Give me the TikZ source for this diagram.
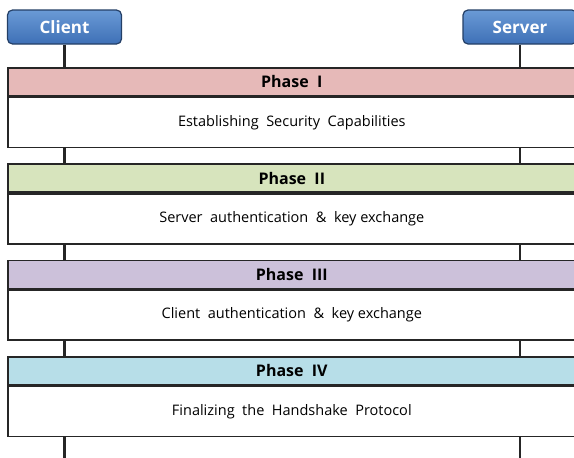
\documentclass[tikz,border=0pt]{standalone}
\usepackage{fontspec}
\setmainfont{Open Sans}
\usetikzlibrary{positioning}

\definecolor{hosttop}{HTML}{6A9AD6}
\definecolor{hostbot}{HTML}{3E70B6}
\definecolor{hostedge}{HTML}{243F66}
\definecolor{phaseI}{HTML}{E6B9B8}
\definecolor{phaseII}{HTML}{D7E4BD}
\definecolor{phaseIII}{HTML}{CCC1DA}
\definecolor{phaseIV}{HTML}{B7DEE8}

\begin{document}
\begin{tikzpicture}[x=1pt,y=-1pt,
	host/.style={draw=hostedge, line width=1.2pt, rounded corners=5pt,
		top color=hosttop, bottom color=hostbot, text=white,
		font=\fontsize{17}{20}\selectfont\bfseries,
		minimum width=114pt, minimum height=34pt, inner sep=0pt},
	phasehead/.style={draw=black!85, line width=1.6pt, anchor=north west,
		minimum width=568pt, minimum height=28pt, inner sep=0pt,
		font=\fontsize{16}{19}\selectfont\bfseries},
	phasebody/.style={draw=black!85, line width=1.6pt, fill=white, anchor=north,
		minimum width=568pt, minimum height=50pt, inner sep=0pt,
		font=\fontsize{14.5}{17}\selectfont},
	lifeline/.style={line width=2.6pt, black!85}]
	\useasboundingbox (0,0) rectangle (574,458);

	% the two end points
	\node[host] (client) at (64.5,27) {Client};
	\node[host] (server) at (520,27) {Server};

	% handshake phases
	\foreach \n/\col/\title/\desc [count=\k from 0] in {
			1/phaseI/{Phase~~I}/{Establishing~~Security~~Capabilities},
			2/phaseII/{Phase~~II}/{Server~~authentication~~\&~~key exchange},
			3/phaseIII/{Phase~~III}/{Client~~authentication~~\&~~key exchange},
			4/phaseIV/{Phase~~IV}/{Finalizing~~the~~Handshake~~Protocol}} {
			\node[phasehead, fill=\col] (head\n) at (7,{67+96.3*\k}) {\title};
			\node[phasebody] (body\n) at (head\n.south) {\desc};
		}

	% lifelines between the boxes
	\coordinate (bottom) at (0,458);
	\draw[lifeline] (client.south) -- (client.south |- head1.north);
	\draw[lifeline] (server.south) -- (server.south |- head1.north);
	\foreach \a/\b in {1/2,2/3,3/4} {
			\draw[lifeline] (client |- body\a.south) -- (client |- head\b.north);
			\draw[lifeline] (server |- body\a.south) -- (server |- head\b.north);
		}
	\draw[lifeline] (client |- body4.south) -- (client |- bottom);
	\draw[lifeline] (server |- body4.south) -- (server |- bottom);
\end{tikzpicture}
\end{document}
